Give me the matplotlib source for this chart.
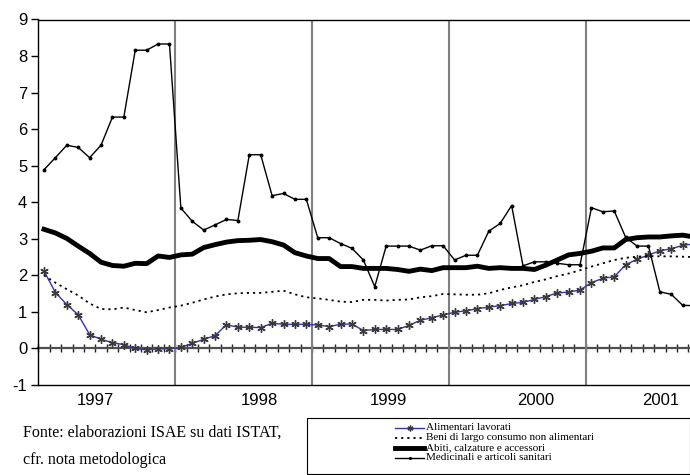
import numpy as np
import matplotlib.pyplot as plt
from matplotlib.lines import Line2D
from matplotlib.patches import Rectangle

plt.rcParams['axes.unicode_minus'] = False

# monthly data, Jan 1997 - Sep 2001 (+ Oct 2001, only partly visible at the right edge)
anni = ['1997', '1998', '1999', '2000', '2001']

alimentari = [2.12, 1.53, 1.20, 0.92, 0.38, 0.25, 0.16, 0.10, 0.00, -0.04, -0.01, -0.01,
              0.03, 0.14, 0.25, 0.35, 0.65, 0.58, 0.58, 0.57, 0.69, 0.66, 0.66, 0.66,
              0.64, 0.60, 0.66, 0.67, 0.49, 0.52, 0.52, 0.52, 0.63, 0.77, 0.84, 0.92,
              0.99, 1.03, 1.09, 1.13, 1.17, 1.23, 1.26, 1.34, 1.42, 1.52, 1.54, 1.60,
              1.80, 1.92, 1.96, 2.29, 2.44, 2.56, 2.67, 2.73, 2.82, 2.86]

beni = [2.00, 1.80, 1.62, 1.45, 1.23, 1.08, 1.07, 1.12, 1.05, 0.99, 1.05, 1.12,
        1.17, 1.25, 1.34, 1.42, 1.48, 1.51, 1.52, 1.52, 1.55, 1.58, 1.48, 1.40,
        1.37, 1.33, 1.28, 1.27, 1.33, 1.33, 1.31, 1.33, 1.34, 1.40, 1.43, 1.49,
        1.48, 1.47, 1.47, 1.51, 1.60, 1.67, 1.73, 1.82, 1.89, 1.98, 2.05, 2.14,
        2.24, 2.33, 2.42, 2.48, 2.51, 2.53, 2.52, 2.52, 2.51, 2.50]

abiti = [3.26, 3.16, 3.01, 2.80, 2.60, 2.36, 2.27, 2.25, 2.33, 2.32, 2.53, 2.49,
         2.56, 2.58, 2.76, 2.84, 2.91, 2.95, 2.96, 2.98, 2.92, 2.83, 2.62, 2.53,
         2.46, 2.46, 2.24, 2.24, 2.19, 2.19, 2.19, 2.16, 2.11, 2.17, 2.13, 2.21,
         2.21, 2.21, 2.25, 2.19, 2.21, 2.19, 2.19, 2.16, 2.28, 2.42, 2.56, 2.60,
         2.66, 2.75, 2.75, 2.98, 3.03, 3.05, 3.05, 3.08, 3.10, 3.05]

medicinali = [4.89, 5.22, 5.56, 5.50, 5.22, 5.56, 6.33, 6.33, 8.16, 8.16, 8.33, 8.33,
              3.84, 3.48, 3.24, 3.38, 3.53, 3.50, 5.30, 5.30, 4.18, 4.24, 4.08, 4.08,
              3.03, 3.03, 2.87, 2.74, 2.42, 1.69, 2.80, 2.80, 2.80, 2.69, 2.81, 2.81,
              2.42, 2.55, 2.55, 3.21, 3.42, 3.91, 2.26, 2.37, 2.37, 2.33, 2.29, 2.29,
              3.85, 3.74, 3.76, 3.04, 2.80, 2.80, 1.55, 1.48, 1.18, 1.17]

nomi = ['Alimentari lavorati', 'Beni di largo consumo non alimentari',
        'Abiti, calzature e accessori', 'Medicinali e articoli sanitari']

x = np.arange(len(alimentari))

W, H = 690, 475
fig = plt.figure(figsize=(W / 100, H / 100), dpi=100)
ax = fig.add_axes([38.3 / W, 90 / H, 1 - 38.3 / W, 365.5 / H])

# year separators
for b in [11.5, 23.5, 35.5, 47.5]:
    ax.axvline(b, color='#808080', lw=1.5, zorder=1)

st_alim = dict(color='#3333aa', lw=1, marker=(6, 2, 0), ms=6, mec='#3a3a3a', mew=1.0)
st_beni = dict(color='black', lw=1.3, ls=(0, (1.2, 2.2)))
st_abiti = dict(color='black', lw=3.5, solid_joinstyle='round')
st_med = dict(color='black', lw=1, marker='o', ms=1.8)

ax.plot(x, alimentari, **st_alim, zorder=3)
ax.plot(x, beni, **st_beni, zorder=3)
ax.plot(x, abiti, **st_abiti, zorder=3)
ax.plot(x, medicinali, **st_med, zorder=4)

ax.set_xlim(-0.5, 56.64)
ax.set_ylim(-1, 9)
ax.set_yticks(range(-1, 10))
ax.set_xticks([4.5, 18.9, 30.2, 43.1, 54.1])
ax.set_xticklabels(anni)
for lab in ax.get_xticklabels() + ax.get_yticklabels():
    lab.set_fontfamily('Liberation Sans')
    lab.set_fontsize(12)
ax.tick_params(axis='x', length=0, pad=6)
ax.tick_params(axis='y', direction='out', length=5, width=1, pad=3)
ax.spines['right'].set_visible(False)
for s in ['left', 'bottom', 'top']:
    ax.spines[s].set_linewidth(1)

# horizontal axis at zero with month tick marks
zero = ax.secondary_xaxis(0.1)
zero.set_xticks(np.arange(-0.5, 57, 1))
zero.tick_params(direction='inout', length=6, width=1, color='#222222', labelbottom=False)
zero.spines['bottom'].set_color('#505050')
zero.spines['bottom'].set_linewidth(1.6)

# source note
fig.text(23 / W, 1 - 433 / H, 'Fonte: elaborazioni ISAE su dati ISTAT,',
         family='Liberation Serif', fontsize=11.5, va='center', ha='left')
fig.text(23 / W, 1 - 460 / H, 'cfr. nota metodologica',
         family='Liberation Serif', fontsize=11.5, va='center', ha='left')

# legend box
fig.add_artist(Rectangle((307 / W, 1 - 474 / H), (W - 307) / W, 56 / H,
                         transform=fig.transFigure, fill=False, lw=0.8, ec='black'))
stili = [st_alim, st_beni, st_abiti, st_med]
for i, (nome, st) in enumerate(zip(nomi, stili)):
    yy = 1 - (428 + i * 10) / H
    linea = {k: v for k, v in st.items() if k not in ('marker', 'ms', 'mec', 'mew')}
    fig.add_artist(Line2D([395 / W, 424 / W], [yy, yy], transform=fig.transFigure, **linea))
    if 'marker' in st:
        fig.add_artist(Line2D([409.5 / W], [yy], transform=fig.transFigure, ls='none',
                              marker=st['marker'], ms=st['ms'] * 0.7,
                              mec=st.get('mec', 'black'), mew=st.get('mew', 1),
                              color=st['color']))
    fig.text(426 / W, yy, nome, family='Liberation Serif', fontsize=8,
             va='center', ha='left')

fig.savefig('out.png', dpi=100)
